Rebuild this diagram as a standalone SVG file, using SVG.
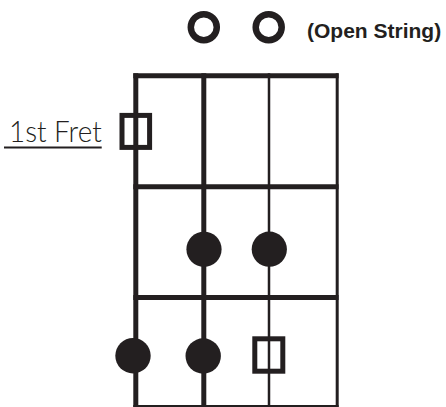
<svg xmlns="http://www.w3.org/2000/svg" width="446" height="407" viewBox="0 0 446 407">
<style>
.k{stroke:#231f20;fill:none}
.dot{fill:#231f20}
.open{fill:none;stroke:#231f20;stroke-width:6.5}
.box{fill:none;stroke:#231f20;stroke-width:5}
.lbl{font-family:"Liberation Sans",Arial,sans-serif;font-weight:bold;font-size:21px;fill:#231f20}
.fret{font-family:"Lato","Open Sans",sans-serif;font-weight:300;font-size:30px;fill:#231f20}
</style>
<rect width="446" height="407" fill="#ffffff"/>
<g id="grid">
<line class="k" x1="135.8" y1="73.3" x2="135.8" y2="407" stroke-width="5"/>
<line class="k" x1="203.8" y1="73.3" x2="203.8" y2="407" stroke-width="5"/>
<line class="k" x1="269" y1="73.3" x2="269" y2="407" stroke-width="2.5"/>
<line class="k" x1="337.2" y1="73.3" x2="337.2" y2="407" stroke-width="3"/>
<line class="k" x1="133.3" y1="75.8" x2="338.6" y2="75.8" stroke-width="5"/>
<line class="k" x1="133.3" y1="186.8" x2="338.6" y2="186.8" stroke-width="5"/>
<line class="k" x1="133.3" y1="297.5" x2="338.6" y2="297.5" stroke-width="5"/>
<line class="k" x1="133.3" y1="406" x2="338.6" y2="406" stroke-width="2"/>
</g>
<g id="open-strings">
<circle class="open" cx="203.8" cy="27.2" r="13"/>
<circle class="open" cx="268.7" cy="27.2" r="13"/>
<text class="lbl" x="307" y="37.5">(Open String)</text>
</g>
<g id="fret-label">
<text class="fret" x="9" y="141.7" textLength="92.7" lengthAdjust="spacingAndGlyphs">1st Fret</text>
<rect x="4" y="146.5" width="97.7" height="2" fill="#231f20"/>
</g>
<g id="root-1">
<rect class="box" x="122" y="115.4" width="27.6" height="32"/>
</g>
<g id="dot-s2-f2"><circle class="dot" cx="204" cy="249.3" r="17.6"/></g>
<g id="dot-s3-f2"><circle class="dot" cx="269.3" cy="249.2" r="17.6"/></g>
<g id="dot-s1-f3"><circle class="dot" cx="133" cy="355.7" r="17.7"/></g>
<g id="dot-s2-f3"><circle class="dot" cx="203.2" cy="356" r="17.7"/></g>
<g id="root-2">
<rect class="box" x="254.8" y="338.8" width="28" height="32.4"/>
</g>
</svg>
